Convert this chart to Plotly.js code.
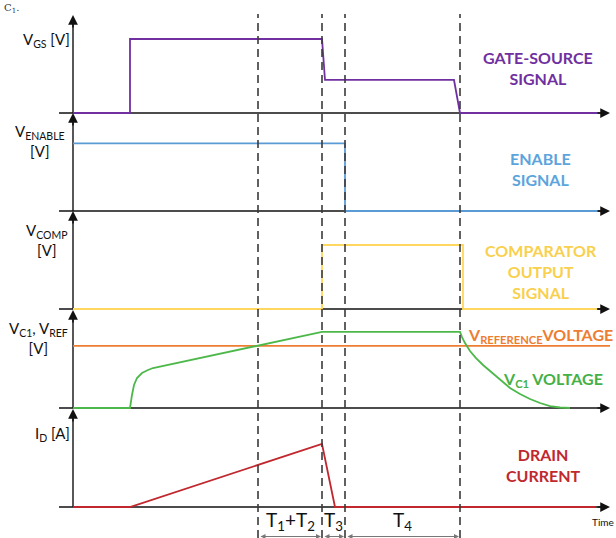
<!DOCTYPE html>
<html><head><meta charset="utf-8">
<script src="https://cdn.plot.ly/plotly-3.0.1.min.js"></script>
<style>html,body{margin:0;padding:0;background:#fff}</style>
</head><body><div id="chart" style="width:616px;height:538px"></div>
<script>
// ---------- DATA (time in arbitrary units, signals normalised to panel height) ----------
const timeVGS  = [0, 57, 57, 249, 252, 381, 387, 524];
const valVGS   = [0, 0, 0.755, 0.755, 0.337, 0.337, 0, 0];
const timeEN   = [0, 272, 272, 525];
const valEN    = [0.69, 0.69, 0, 0];
const timeCOMP = [0, 249, 249, 390, 390, 524];
const valCOMP  = [0, 0, 0.653, 0.653, 0, 0];
const timeREF  = [0, 537];
const valREF   = [0.633, 0.633];
const timeVC1  = [0, 57, 59, 61, 64, 69, 75, 80, 249, 387, 389, 392, 397, 403, 410, 417, 427, 437, 447, 457, 467, 477, 487, 497];
const valVC1   = [0, 0, 0.133, 0.235, 0.306, 0.357, 0.388, 0.408, 0.776, 0.776, 0.724, 0.663, 0.582, 0.510, 0.439, 0.378, 0.286, 0.204, 0.143, 0.092, 0.051, 0.020, 0.005, 0];
const timeID   = [0, 57, 249, 262, 522];
const valID    = [0, 0, 0.643, 0, 0];
const markerTimes = [185, 249, 272, 387];      // T1+T2 | T3 | T4 boundaries
const intervalLabels = ['T<sub>1</sub>+T<sub>2</sub>', 'T<sub>3</sub>', 'T<sub>4</sub>'];
const leftLabels = ['V<sub>GS</sub> [V]', 'V<sub>ENABLE</sub><br>[V]', 'V<sub>COMP</sub><br>[V]',
                    'V<sub>C1</sub>, V<sub>REF</sub><br>[V]', 'I<sub>D</sub> [A]'];

// ---------- LAYOUT HELPERS ----------
const W = 616, H = 538, X0 = 73, PH = 98;
const baselines = [113, 211, 309, 408, 507];
const PX = p => p / W;
const PY = p => 1 - p / H;
const yax = ['y', 'y2', 'y3', 'y4', 'y5'];

const C = {purple:'#7030A0', blue:'#5B9BD5', yellow:'#FFD75E', orange:'#ED7D31', green:'#4DB84A', red:'#C0282E'};

function tr(x, y, color, k, w) {
  return {x:x, y:y, yaxis:yax[k], type:'scatter', mode:'lines', hoverinfo:'skip',
          line:{color:color, width:w||1.8}};
}
const data = [
  tr(timeVGS, valVGS, C.purple, 0),
  tr(timeEN, valEN, C.blue, 1),
  tr(timeCOMP, valCOMP, C.yellow, 2),
  tr(timeREF, valREF, C.orange, 3),
  tr(timeVC1, valVC1, C.green, 3),
  tr(timeID, valID, C.red, 4)
];

const layout = {
  width: W, height: H, margin:{l:0, r:0, t:0, b:0},
  paper_bgcolor:'#fff', plot_bgcolor:'#fff', showlegend:false,
  xaxis:{range:[-X0, W - X0], visible:false, fixedrange:true},
  shapes:[], annotations:[]
};
baselines.forEach((b, k) => {
  const r0 = (b - H) / PH;
  const key = k === 0 ? 'yaxis' : 'yaxis' + (k + 1);
  layout[key] = {range:[r0, r0 + H / PH], domain:[0,1], visible:false, fixedrange:true};
  if (k > 0) layout[key].overlaying = 'y';
  layout.shapes.push({type:'line', layer:'below', xref:'x', yref:yax[k], x0:-14, x1:530, y0:0, y1:0,
                      line:{color:'#111', width:1.4}});
  layout.shapes.push({type:'line', layer:'below', xref:'x', yref:yax[k], x0:0, x1:0, y0:0, y1:0.95,
                      line:{color:'#111', width:1.4}});
  layout.annotations.push({xref:'x', yref:yax[k], x:537, y:0, ax:-14, ay:0, text:'', showarrow:true,
                           arrowhead:2, arrowsize:1.3, arrowwidth:1.5, arrowcolor:'#111'});
  layout.annotations.push({xref:'x', yref:yax[k], x:0, y:1, ax:0, ay:14, text:'', showarrow:true,
                           arrowhead:2, arrowsize:1.3, arrowwidth:1.5, arrowcolor:'#111'});
});
markerTimes.forEach(t => layout.shapes.push({type:'line', layer:'above', xref:'x', yref:'paper',
  x0:t, x1:t, y0:0, y1:PY(14), line:{color:'#3a3a3a', width:1.6, dash:'8px,5px'}}));
for (let i = 0; i < 3; i++) {
  layout.annotations.push({xref:'x', yref:'paper', x:markerTimes[i+1]-1, y:PY(536.5), axref:'x', ayref:'paper',
    ax:markerTimes[i]+1, ay:PY(536.5), text:'', showarrow:true, arrowside:'end+start',
    arrowhead:2, arrowsize:1, arrowwidth:1, arrowcolor:'#777'});
  layout.annotations.push({xref:'x', yref:'paper', x:(markerTimes[i]+markerTimes[i+1])/2, y:PY(521),
    text:intervalLabels[i], showarrow:false, xanchor:'center', yanchor:'middle',
    font:{family:'Lato, sans-serif', size:19, color:'#111'}});
}
const leftPos = [[72,40,'right'],[40,141,'center'],[46,240,'center'],[39,338,'center'],[72,434,'right']];
leftLabels.forEach((s, i) => layout.annotations.push({xref:'paper', yref:'paper',
  x:PX(leftPos[i][0]), y:PY(leftPos[i][1]), text:s, showarrow:false, xanchor:leftPos[i][2], yanchor:'middle',
  align:'center', font:{family:'Lato, sans-serif', size:15, color:'#111'}}));
const rl = (txt, x, y, col) => layout.annotations.push({xref:'paper', yref:'paper', x:PX(x), y:PY(y),
  text:'<b>'+txt+'</b>', showarrow:false, xanchor:'center', yanchor:'middle', align:'center',
  font:{family:'Lato, sans-serif', size:16, color:col}});
rl('GATE-SOURCE<br>SIGNAL', 538, 68, '#7030A0');
rl('ENABLE<br>SIGNAL', 540, 169, '#5BA4DC');
rl('COMPARATOR<br>OUTPUT<br>SIGNAL', 541, 271, '#F9D04E');
rl('V<sub>REFERENCE</sub>VOLTAGE', 540, 335, '#ED7D31');
rl('V<sub>C1</sub> VOLTAGE', 553, 379, '#45B045');
rl('DRAIN<br>CURRENT', 543, 465, '#C0282E');
layout.annotations.push({xref:'paper', yref:'paper', x:PX(616), y:PY(522), text:'Time', showarrow:false,
  xanchor:'right', yanchor:'middle', font:{family:'Lato, sans-serif', size:10, color:'#111'}});
layout.annotations.push({xref:'paper', yref:'paper', x:PX(2), y:PY(0), text:'C<sub>1</sub>.', showarrow:false,
  xanchor:'left', yanchor:'top', font:{family:'DejaVu Serif, serif', size:10, color:'#333'}});

Plotly.newPlot('chart', data, layout, {staticPlot:true, displayModeBar:false});
</script></body></html>
